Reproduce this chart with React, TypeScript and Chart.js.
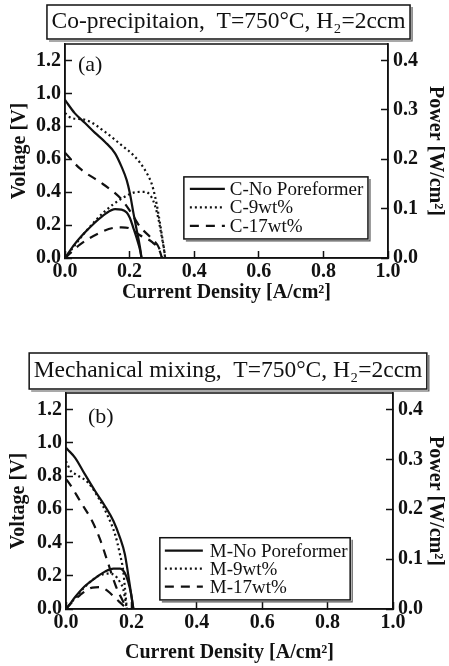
import React, { useEffect, useRef } from "react";
import { Chart, registerables } from "chart.js";

Chart.register(...registerables);

const SERIF = '"Liberation Serif", "Times New Roman", serif';
const INK = "#111111";

// ---- axis ticks ----
const currentTicks = [0, 0.2, 0.4, 0.6, 0.8, 1.0];
const voltageTicks = [0, 0.2, 0.4, 0.6, 0.8, 1.0, 1.2];
const powerTicks = [0, 0.1, 0.2, 0.3, 0.4];
const voltageMax = 1.3;
const powerMax = 0.4333;

// ---- texts ----
const titleA = "Co-precipitaion,  T=750°C, H\u2082=2ccm";
const titleB = "Mechanical mixing,  T=750°C, H\u2082=2ccm";
const legendA = ["C-No Poreformer", "C-9wt%", "C-17wt%"];
const legendB = ["M-No Poreformer", "M-9wt%", "M-17wt%"];
const xTitle = "Current Density [A/cm\u00B2]";
const yLeftTitle = "Voltage [V]";
const yRightTitle = "Power [W/cm\u00B2]";

// ---- (a) Co-precipitation ----
const cNoPoreCurrent = [0, 0.03, 0.062, 0.093, 0.124, 0.155, 0.175, 0.191, 0.201, 0.212, 0.222, 0.232, 0.237];
const cNoPoreVoltage = [0.96, 0.88, 0.82, 0.76, 0.705, 0.636, 0.555, 0.473, 0.392, 0.271, 0.17, 0.068, 0];
const cNoPorePower = [0, 0.028, 0.052, 0.072, 0.089, 0.099, 0.098, 0.092, 0.081, 0.06, 0.04, 0.017, 0];

const c9Current = [0, 0.02, 0.062, 0.124, 0.175, 0.217, 0.248, 0.268, 0.279, 0.289, 0.299, 0.307, 0.31];
const c9Voltage = [0.88, 0.85, 0.84, 0.766, 0.685, 0.614, 0.533, 0.453, 0.372, 0.271, 0.15, 0.048, 0];
const c9Power = [0, 0.017, 0.052, 0.095, 0.12, 0.133, 0.134, 0.123, 0.105, 0.08, 0.045, 0.015, 0];

const c17Current = [0, 0.046, 0.108, 0.15, 0.175, 0.2, 0.232, 0.268, 0.294, 0.3];
const c17Voltage = [0.64, 0.544, 0.462, 0.402, 0.356, 0.29, 0.19, 0.119, 0.048, 0];
const c17Power = [0, 0.027, 0.051, 0.061, 0.062, 0.06, 0.046, 0.033, 0.013, 0];

// ---- (b) Mechanical mixing ----
const mNoPoreCurrent = [0, 0.005, 0.028, 0.058, 0.089, 0.119, 0.145, 0.165, 0.18, 0.19, 0.199, 0.206];
const mNoPoreVoltage = [0.97, 0.96, 0.91, 0.81, 0.71, 0.62, 0.53, 0.43, 0.33, 0.21, 0.094, 0];
const mNoPorePower = [0, 0.004, 0.024, 0.046, 0.062, 0.075, 0.081, 0.081, 0.072, 0.055, 0.03, 0];

const m9Current = [0, 0.015, 0.03, 0.068, 0.099, 0.13, 0.15, 0.165, 0.175, 0.18, 0.186];
const m9Voltage = [0.89, 0.83, 0.81, 0.76, 0.67, 0.55, 0.45, 0.33, 0.23, 0.13, 0];
const m9Power = [0, 0.012, 0.024, 0.051, 0.066, 0.071, 0.067, 0.054, 0.04, 0.023, 0];

const m17Current = [0, 0.005, 0.043, 0.081, 0.104, 0.128, 0.152, 0.177, 0.185];
const m17Voltage = [0.78, 0.77, 0.65, 0.525, 0.42, 0.28, 0.14, 0.035, 0];
const m17Power = [0, 0.004, 0.028, 0.043, 0.044, 0.036, 0.021, 0.006, 0];

const SOLID: number[] = [];
const DOTTED = [2, 3];
const DASHED = [9, 7];

type Series = { label: string; current: number[]; voltage: number[]; power: number[]; dash: number[] };
type Layout = {
  height: number;
  padLeft: number;
  leftW: number;
  rightW: number;
  xAxisH: number;
  titleSize: number;
  titlePadTop: number;
  titlePadBottom: number;
  titleBoxTop: number;
  titleBoxBottom: number;
  xTitlePad: number;
  tagDx: number;
  tagDy: number;
  legend: { fx0: number; fx1: number; fy0: number; fy1: number; rows: number[]; s0: number; s1: number; tx: number };
};
type Panel = { title: string; tag: string; series: Series[]; layout: Layout };

const panelA: Panel = {
  title: titleA,
  tag: "(a)",
  series: [
    { label: legendA[0], current: cNoPoreCurrent, voltage: cNoPoreVoltage, power: cNoPorePower, dash: SOLID },
    { label: legendA[1], current: c9Current, voltage: c9Voltage, power: c9Power, dash: DOTTED },
    { label: legendA[2], current: c17Current, voltage: c17Voltage, power: c17Power, dash: DASHED },
  ],
  layout: {
    height: 310,
    padLeft: 8,
    leftW: 57,
    rightW: 61,
    xAxisH: 52,
    titleSize: 23.5,
    titlePadTop: 7.9,
    titlePadBottom: 7.9,
    titleBoxTop: 5,
    titleBoxBottom: 39,
    xTitlePad: 5,
    tagDx: 13,
    tagDy: 21,
    legend: { fx0: 0.368, fx1: 0.938, fy0: 0.621, fy1: 0.911, rows: [12, 30.5, 49], s0: 6, s1: 41, tx: 46 },
  },
};

const panelB: Panel = {
  title: titleB,
  tag: "(b)",
  series: [
    { label: legendB[0], current: mNoPoreCurrent, voltage: mNoPoreVoltage, power: mNoPorePower, dash: SOLID },
    { label: legendB[1], current: m9Current, voltage: m9Voltage, power: m9Power, dash: DOTTED },
    { label: legendB[2], current: m17Current, voltage: m17Voltage, power: m17Power, dash: DASHED },
  ],
  layout: {
    height: 336,
    padLeft: 7,
    leftW: 59,
    rightW: 56,
    xAxisH: 57,
    titleSize: 23.5,
    titlePadTop: 26.9,
    titlePadBottom: 7.9,
    titleBoxTop: 23,
    titleBoxBottom: 59,
    xTitlePad: 1,
    tagDx: 22,
    tagDy: 24,
    legend: { fx0: 0.287, fx1: 0.869, fy0: 0.67, fy1: 0.958, rows: [13, 31, 49], s0: 5, s1: 43, tx: 50 },
  },
};

function drawShadowBox(ctx: CanvasRenderingContext2D, x0: number, y0: number, x1: number, y1: number) {
  ctx.save();
  ctx.strokeStyle = INK;
  ctx.setLineDash([]);
  ctx.lineWidth = 1.5;
  ctx.strokeRect(x0, y0, x1 - x0, y1 - y0);
  ctx.lineWidth = 1.2;
  ctx.strokeStyle = "#555";
  ctx.beginPath();
  ctx.moveTo(x0 + 2, y1 + 2);
  ctx.lineTo(x1 + 2, y1 + 2);
  ctx.lineTo(x1 + 2, y0 + 2);
  ctx.stroke();
  ctx.restore();
}

function makeDecor(panel: Panel) {
  return {
    id: "panelDecor",
    afterDraw(chart: any) {
      const ctx: CanvasRenderingContext2D = chart.ctx;
      const ca = chart.chartArea;
      const L = panel.layout;
      // frame around plot
      ctx.save();
      ctx.strokeStyle = INK;
      ctx.lineWidth = 1.5;
      ctx.strokeRect(ca.left, ca.top, ca.right - ca.left, ca.bottom - ca.top);
      ctx.restore();

      // box around the title
      const tb = chart.titleBlock;
      ctx.save();
      ctx.font = `normal ${L.titleSize}px ${SERIF}`;
      const tw = ctx.measureText(panel.title).width;
      ctx.restore();
      const cx = (tb.left + tb.right) / 2;
      drawShadowBox(ctx, cx - tw / 2 - 4.5, L.titleBoxTop, cx + tw / 2 + 4.5, L.titleBoxBottom);

      // panel tag
      ctx.save();
      ctx.fillStyle = INK;
      ctx.font = `normal 22px ${SERIF}`;
      ctx.textAlign = "left";
      ctx.textBaseline = "middle";
      ctx.fillText(panel.tag, ca.left + L.tagDx, ca.top + L.tagDy);
      ctx.restore();

      // legend
      const lg = L.legend;
      const w = ca.right - ca.left;
      const h = ca.bottom - ca.top;
      const bx0 = ca.left + lg.fx0 * w;
      const bx1 = ca.left + lg.fx1 * w;
      const by0 = ca.top + lg.fy0 * h;
      const by1 = ca.top + lg.fy1 * h;
      ctx.save();
      ctx.fillStyle = "#ffffff";
      ctx.fillRect(bx0, by0, bx1 - bx0, by1 - by0);
      ctx.restore();
      drawShadowBox(ctx, bx0, by0, bx1, by1);
      const legendSets = chart.data.datasets.filter((d: any) => d.yAxisID === "yV");
      legendSets.forEach((d: any, i: number) => {
        const y = by0 + lg.rows[i];
        ctx.save();
        ctx.strokeStyle = INK;
        ctx.lineWidth = 2.2;
        ctx.setLineDash(d.borderDash || []);
        ctx.beginPath();
        ctx.moveTo(bx0 + lg.s0, y);
        ctx.lineTo(bx0 + lg.s1, y);
        ctx.stroke();
        ctx.setLineDash([]);
        ctx.fillStyle = INK;
        ctx.font = `normal 19px ${SERIF}`;
        ctx.textAlign = "left";
        ctx.textBaseline = "middle";
        ctx.fillText(d.label, bx0 + lg.tx, y + 1);
        ctx.restore();
      });
    },
  };
}

function buildConfig(panel: Panel): any {
  const L = panel.layout;
  const tickFont = { family: SERIF, size: 20, weight: "bold" as const };
  const axisTitleFont = { family: SERIF, size: 20, weight: "bold" as const };
  const datasets: any[] = [];
  panel.series.forEach((s) => {
    datasets.push({
      label: s.label,
      yAxisID: "yV",
      data: s.current.map((c, i) => ({ x: c, y: s.voltage[i] })),
      borderColor: INK,
      borderWidth: 2.2,
      borderDash: s.dash,
      pointRadius: 0,
      fill: false,
      cubicInterpolationMode: "monotone",
    });
  });
  panel.series.forEach((s) => {
    datasets.push({
      label: s.label + " (power)",
      yAxisID: "yP",
      data: s.current.map((c, i) => ({ x: c, y: s.power[i] })),
      borderColor: INK,
      borderWidth: 2.2,
      borderDash: s.dash,
      pointRadius: 0,
      fill: false,
      cubicInterpolationMode: "monotone",
    });
  });
  const grid = { drawOnChartArea: false, drawTicks: true, tickLength: -7, color: INK, tickWidth: 1.5 };
  const border = { display: true, color: INK, width: 1.5 };
  return {
    type: "line",
    data: { datasets },
    options: {
      animation: false,
      responsive: false,
      devicePixelRatio: 1,
      layout: { padding: { left: L.padLeft, right: 0, top: 0, bottom: 0 } },
      plugins: {
        legend: { display: false },
        tooltip: { enabled: false },
        title: {
          display: true,
          text: panel.title,
          color: INK,
          font: { family: SERIF, size: L.titleSize, weight: "normal", lineHeight: 1.2 },
          padding: { top: L.titlePadTop, bottom: L.titlePadBottom },
        },
      },
      scales: {
        x: {
          type: "linear",
          position: "bottom",
          min: 0,
          max: 1,
          afterBuildTicks: (s: any) => {
            s.ticks = currentTicks.map((v) => ({ value: v }));
          },
          afterFit: (s: any) => {
            s.height = L.xAxisH;
          },
          ticks: {
            color: INK,
            font: tickFont,
            padding: 9,
            maxRotation: 0,
            autoSkip: false,
            callback: (v: any) => Number(v).toFixed(1),
          },
          grid,
          border,
          title: { display: true, text: xTitle, color: INK, font: axisTitleFont, padding: { top: 0, bottom: L.xTitlePad } },
        },
        yV: {
          type: "linear",
          position: "left",
          min: 0,
          max: voltageMax,
          afterBuildTicks: (s: any) => {
            s.ticks = voltageTicks.map((v) => ({ value: v }));
          },
          afterFit: (s: any) => {
            s.width = L.leftW;
          },
          ticks: { color: INK, font: tickFont, padding: 11, callback: (v: any) => Number(v).toFixed(1) },
          grid,
          border,
          title: { display: true, text: yLeftTitle, color: INK, font: axisTitleFont, padding: { top: 0, bottom: 0 } },
        },
        yP: {
          type: "linear",
          position: "right",
          min: 0,
          max: powerMax,
          afterBuildTicks: (s: any) => {
            s.ticks = powerTicks.map((v) => ({ value: v }));
          },
          afterFit: (s: any) => {
            s.width = L.rightW;
          },
          ticks: { color: INK, font: tickFont, padding: 12, callback: (v: any) => Number(v).toFixed(1) },
          grid,
          border,
          title: { display: true, text: yRightTitle, color: INK, font: axisTitleFont, padding: { top: 2, bottom: 0 } },
        },
      },
    },
    plugins: [makeDecor(panel)],
  };
}

function PanelChart({ panel, top }: { panel: Panel; top: number }) {
  const ref = useRef<HTMLCanvasElement | null>(null);
  useEffect(() => {
    if (!ref.current) return;
    const chart = new Chart(ref.current, buildConfig(panel));
    return () => chart.destroy();
  }, [panel]);
  return (
    <canvas
      ref={ref}
      width={449}
      height={panel.layout.height}
      style={{ position: "absolute", left: 0, top, width: 449, height: panel.layout.height, display: "block" }}
    />
  );
}

export default function App() {
  return (
    <div style={{ position: "absolute", left: 0, top: 0, width: 449, height: 666, background: "#ffffff", overflow: "hidden" }}>
      <PanelChart panel={panelA} top={0} />
      <PanelChart panel={panelB} top={330} />
    </div>
  );
}
